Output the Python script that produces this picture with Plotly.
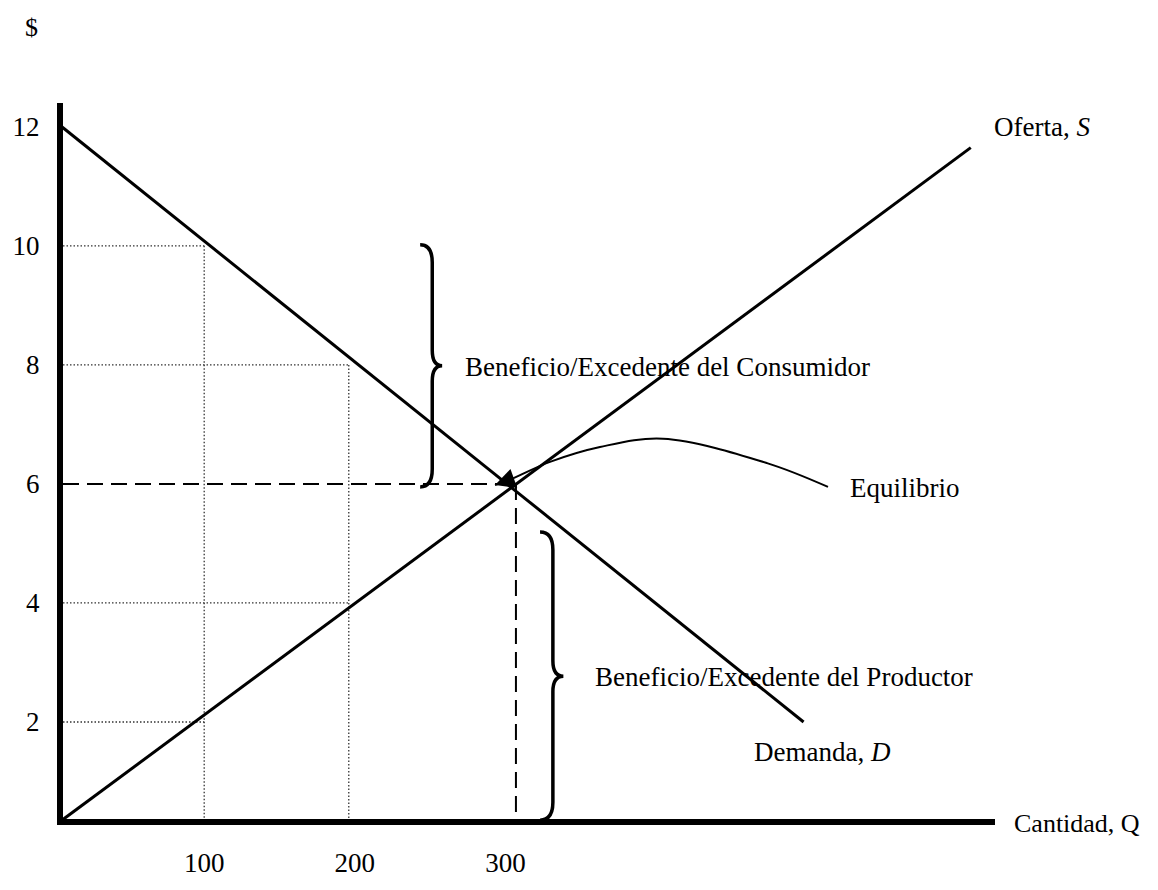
import plotly.graph_objects as go

# ---------------- data ----------------
x_ticks = [100, 200, 300]
x_tick_text = ["100", "200", "300"]
y_ticks = [2, 4, 6, 8, 10, 12]
y_tick_text = ["2", "4", "6", "8", "10", "12"]

demand_q = [4, 498]
demand_p = [12.03, 2.0]

supply_q = [4, 609]
supply_p = [0.32, 11.65]

# dotted guide lines: vertical at these quantities, up to demand price levels
guide_q = [100, 196]
guide_p_demand = [10, 8]
guide_p_supply = [2, 4]

# equilibrium
eq_q = 307
eq_p = 6.0

# curved pointer to the equilibrium
pointer_q = [514.2, 473.7, 404.6, 362.8, 329.6, 303.0, 293.1]
pointer_p = [5.95, 6.35, 6.76, 6.62, 6.37, 6.07, 5.98]

# braces (span of price, tip / point quantities)
cons_brace_p = [5.95, 10.02]
cons_brace_q = [243.4, 258.0]
prod_brace_p = [0.35, 5.19]
prod_brace_q = [323.0, 338.5]

# ---------------- figure ----------------
FONT = "Liberation Serif"
X_RANGE = [6.24, 625.1]
Y_RANGE = [0.37, 12.40]

fig = go.Figure()


def add_line(x, y, width, dash=None, color="black", shape="linear"):
    fig.add_trace(go.Scatter(
        x=x, y=y, mode="lines",
        line=dict(color=color, width=width, dash=dash, shape=shape, smoothing=1.0),
        hoverinfo="skip", showlegend=False))


DOT = "1.5px,2px"
# dotted guides
for q, pd_, ps in zip(guide_q, guide_p_demand, guide_p_supply):
    add_line([X_RANGE[0], q], [pd_, pd_], 1.3, DOT, "#333333")
    add_line([q, q], [pd_, Y_RANGE[0]], 1.3, DOT, "#333333")
    add_line([X_RANGE[0], q], [ps, ps], 1.3, DOT, "#333333")

# dashed equilibrium lines
add_line([X_RANGE[0], eq_q], [eq_p, eq_p], 2, "16px,8px")
add_line([eq_q, eq_q], [eq_p, Y_RANGE[0]], 2, "16px,8px")

# demand & supply
add_line(demand_q, demand_p, 3)
add_line(supply_q, supply_p, 3)

# pointer curve
add_line(pointer_q, pointer_p, 2, shape="spline")


def brace_path(p_range, q_range, r_end=0.30, r_mid=0.26):
    p0, p1 = p_range
    tip, point = q_range
    spine = tip + (point - tip) * 0.55
    mid = (p0 + p1) / 2
    return (f"M {tip},{p1} Q {spine},{p1} {spine},{p1 - r_end} "
            f"L {spine},{mid + r_mid} Q {spine},{mid} {point},{mid} "
            f"Q {spine},{mid} {spine},{mid - r_mid} "
            f"L {spine},{p0 + r_end} Q {spine},{p0} {tip},{p0}")


for pr, qr in [(cons_brace_p, cons_brace_q), (prod_brace_p, prod_brace_q)]:
    fig.add_shape(type="path", path=brace_path(pr, qr), xref="x", yref="y",
                  line=dict(color="black", width=3.5))

# arrowhead of pointer
fig.add_annotation(x=pointer_q[-1], y=pointer_p[-1], ax=pointer_q[-2], ay=pointer_p[-2],
                   xref="x", yref="y", axref="x", ayref="y", text="",
                   showarrow=True, arrowhead=2, arrowsize=2.0, arrowwidth=2,
                   arrowcolor="black")

txt_font = dict(family=FONT, size=27, color="black")
tick_font = dict(family=FONT, size=27, color="black")


def label(x, y, text, xref="x", yref="y", xanchor="left", size=27):
    fig.add_annotation(x=x, y=y, xref=xref, yref=yref, text=text, showarrow=False,
                       xanchor=xanchor, yanchor="middle",
                       font=dict(family=FONT, size=size, color="black"))


label(623.1, 12.0, "Oferta, <i>S</i>")
label(463.7, 1.50, "Demanda, <i>D</i>")
label(527.5, 5.93, "Equilibrio")
label(1.018, -0.0056, "Cantidad, Q", xref="paper", yref="paper", size=26)
label(271.8, 7.97, "Beneficio/Excedente del Consumidor")
label(358.2, 2.76, "Beneficio/Excedente del Productor")
label(-0.0333, 1.106, "$", xref="paper", yref="paper", xanchor="center", size=26)

# page body has an 8px default margin, so the figure is sized to fit inside it
fig.update_layout(
    width=1142, height=874,
    margin=dict(l=55, r=155, t=95, b=63, autoexpand=False),
    paper_bgcolor="white", plot_bgcolor="white",
    showlegend=False,
    font=txt_font,
    xaxis=dict(range=X_RANGE, showline=True, linewidth=6, linecolor="black",
               showgrid=False, zeroline=False, ticks="", tickvals=x_ticks,
               ticktext=x_tick_text, ticklabelstandoff=15, tickfont=tick_font,
               automargin=False, fixedrange=True),
    yaxis=dict(range=Y_RANGE, showline=True, linewidth=6, linecolor="black",
               showgrid=False, zeroline=False, ticks="", tickvals=y_ticks,
               ticktext=y_tick_text, ticklabelstandoff=12, tickfont=tick_font,
               automargin=False, fixedrange=True),
)

fig.write_html("out.html")
